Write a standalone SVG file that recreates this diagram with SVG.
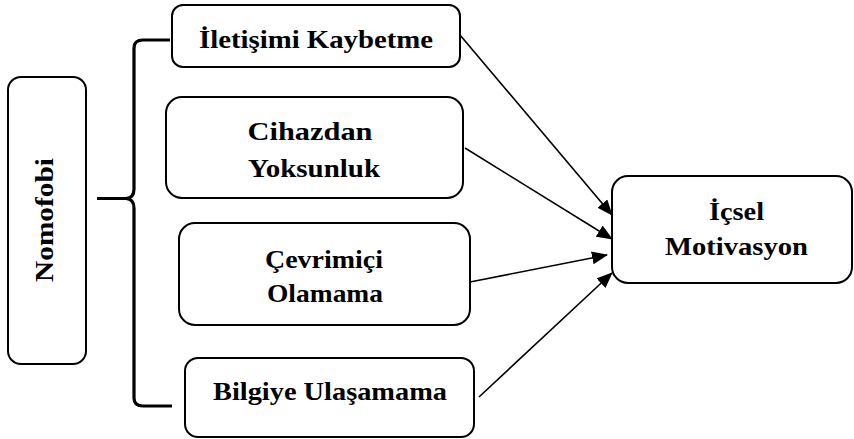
<svg xmlns="http://www.w3.org/2000/svg" width="854" height="439" viewBox="0 0 854 439">
<style>
.box{fill:#fff;stroke:#000;stroke-width:2}
.t{font-family:"Liberation Serif","Times New Roman",serif;font-weight:bold;font-size:25px;fill:#000;text-anchor:middle}
.c{stroke:#000;stroke-width:1.6;fill:none}
.brace{stroke:#000;stroke-width:3.2;fill:none}
</style>
<defs>
<marker id="ah" markerWidth="16" markerHeight="13" refX="15" refY="6.5" orient="auto" markerUnits="userSpaceOnUse">
<path d="M0,0 L16,6.5 L0,13 Z" fill="#000"/>
</marker>
</defs>
<rect width="854" height="439" fill="#fff"/>
<g id="nomofobi">
<rect class="box" x="8" y="77" width="78" height="287" rx="13"/>
<text class="t" transform="translate(53,220) rotate(-90)" textLength="124" lengthAdjust="spacingAndGlyphs">Nomofobi</text>
</g>
<g id="iletisimi">
<rect class="box" x="172" y="5" width="288" height="62" rx="11"/>
<text class="t" x="316" y="48" textLength="234" lengthAdjust="spacingAndGlyphs">İletişimi Kaybetme</text>
</g>
<g id="cihazdan">
<rect class="box" x="166" y="97" width="297" height="101" rx="16"/>
<text class="t" x="310" y="140" textLength="125" lengthAdjust="spacingAndGlyphs">Cihazdan</text>
<text class="t" x="314" y="177" textLength="132" lengthAdjust="spacingAndGlyphs">Yoksunluk</text>
</g>
<g id="cevrimici">
<rect class="box" x="179" y="223" width="291" height="102" rx="16"/>
<text class="t" x="324" y="268" textLength="118" lengthAdjust="spacingAndGlyphs">Çevrimiçi</text>
<text class="t" x="325" y="302" textLength="116" lengthAdjust="spacingAndGlyphs">Olamama</text>
</g>
<g id="bilgiye">
<rect class="box" x="185" y="358" width="289" height="79" rx="13"/>
<text class="t" x="330" y="400" textLength="234" lengthAdjust="spacingAndGlyphs">Bilgiye Ulaşamama</text>
</g>
<g id="icsel">
<rect class="box" x="612" y="176" width="240" height="107" rx="16"/>
<text class="t" x="736.5" y="220" textLength="55" lengthAdjust="spacingAndGlyphs">İçsel</text>
<text class="t" x="736.5" y="255" textLength="143" lengthAdjust="spacingAndGlyphs">Motivasyon</text>
</g>
<g id="connectors">
<path class="brace" d="M170,40 H143 Q134,40 134,48 V189 Q134,198 126,198.5 Q134,199 134,208 V398 Q134,406 143,406 H172 M97,198.5 H127"/>
<line class="c" x1="460" y1="35" x2="612" y2="215" marker-end="url(#ah)"/>
<line class="c" x1="465" y1="148" x2="612" y2="239" marker-end="url(#ah)"/>
<line class="c" x1="470" y1="282" x2="607" y2="255" marker-end="url(#ah)"/>
<line class="c" x1="479" y1="397" x2="612" y2="273" marker-end="url(#ah)"/>
</g>
</svg>
